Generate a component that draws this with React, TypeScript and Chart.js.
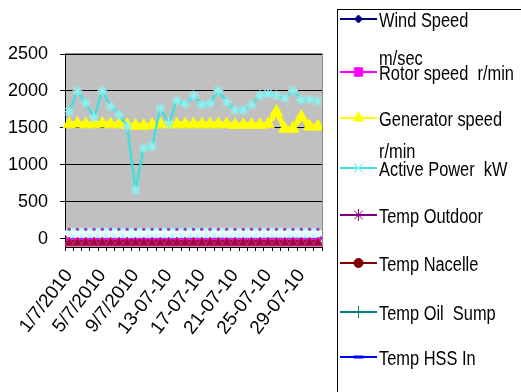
import React, { useEffect, useRef } from 'react';
import { Chart, registerables } from 'chart.js';
import { drawPoint } from 'chart.js/helpers';

Chart.register(...registerables);

const CATEGORIES = [
  '1/7/2010', '2/7/2010', '3/7/2010', '4/7/2010', '5/7/2010', '6/7/2010', '7/7/2010', '8/7/2010',
  '9/7/2010', '10/7/2010', '11/7/2010', '12/7/2010', '13-07-10', '14-07-10', '15-07-10', '16-07-10',
  '17-07-10', '18-07-10', '19-07-10', '20-07-10', '21-07-10', '22-07-10', '23-07-10', '24-07-10',
  '25-07-10', '26-07-10', '27-07-10', '28-07-10', '29-07-10', '30-07-10', '31-07-10',
];

const SERIES_NAMES = [
  'Wind Speed m/sec',
  'Rotor speed  r/min',
  'Generator speed r/min',
  'Active Power  kW',
  'Temp Outdoor',
  'Temp Nacelle',
  'Temp Oil  Sump',
  'Temp HSS In',
];

const LEGEND_TEXT = [
  ['Wind Speed', 'm/sec'],
  ['Rotor speed  r/min'],
  ['Generator speed', 'r/min'],
  ['Active Power  kW'],
  ['Temp Outdoor'],
  ['Temp Nacelle'],
  ['Temp Oil  Sump'],
  ['Temp HSS In'],
];

const WIND_SPEED = [7, 9, 8, 6, 9, 8, 7, 6, 3, 5, 5, 7, 6, 8, 8, 9, 8, 8, 9, 8, 7, 7, 8, 8, 9, 9, 8, 9, 8, 8, 8];
const ROTOR_SPEED = [15, 16, 16, 15, 16, 15, 15, 14, 10, 13, 13, 15, 14, 16, 16, 16, 16, 16, 16, 16, 15, 15, 15, 16, 16, 17, 15, 15, 16, 16, 16];
const GENERATOR_SPEED = [1550, 1560, 1550, 1550, 1560, 1550, 1550, 1540, 1530, 1530, 1540, 1550, 1550, 1550, 1550, 1550, 1550, 1550, 1550, 1550, 1540, 1540, 1540, 1540, 1550, 1720, 1490, 1490, 1650, 1520, 1520];
const ACTIVE_POWER = [1720, 2000, 1840, 1640, 2000, 1790, 1680, 1520, 660, 1230, 1250, 1770, 1560, 1870, 1820, 1940, 1810, 1830, 2010, 1850, 1740, 1740, 1810, 1940, 1960, 1940, 1900, 2010, 1880, 1885, 1860];
const TEMP_OUTDOOR = [130, 130, 130, 130, 130, 130, 130, 130, 130, 130, 130, 130, 130, 130, 130, 130, 130, 130, 130, 130, 130, 130, 130, 130, 130, 130, 130, 130, 130, 130, 130];
const TEMP_NACELLE = [-55, -55, -55, -55, -55, -55, -55, -55, -55, -55, -55, -55, -55, -55, -55, -55, -55, -55, -55, -55, -55, -55, -55, -55, -55, -55, -55, -55, -55, -55, -55];
const TEMP_OIL_SUMP = [80, 81, 81, 80, 81, 81, 80, 80, 78, 79, 79, 80, 80, 81, 81, 82, 81, 81, 82, 81, 80, 80, 81, 81, 82, 82, 81, 82, 81, 81, 81];
const TEMP_HSS_IN = [78, 79, 79, 78, 79, 79, 78, 78, 76, 77, 77, 78, 78, 79, 79, 80, 79, 79, 80, 79, 78, 78, 79, 79, 80, 80, 79, 80, 79, 79, 79];

const Y_TICKS = [0, 500, 1000, 1500, 2000, 2500];
const Y_MIN = -110;
const Y_MAX = 2500;
const LABEL_EVERY = 4;

const FONT = '"Liberation Sans", Arial, sans-serif';

const LEGEND_STYLE = [
  { line: '#000080', fill: '#000080', point: 'rectRot', r: 4, bw: 1 },
  { line: '#ff00ff', fill: '#ff00ff', point: 'rect', r: 6, bw: 1 },
  { line: '#ffff00', fill: '#ffff00', point: 'triangle', r: 6, bw: 1 },
  { line: '#40e0e0', fill: '#90f0f0', point: 'crossRot', r: 6, bw: 1.5 },
  { line: '#800080', fill: '#800080', point: 'star', r: 6, bw: 1 },
  { line: '#800000', fill: '#800000', point: 'circle', r: 4.5, bw: 1 },
  { line: '#008080', fill: '#008080', point: 'cross', r: 6, bw: 1 },
  { line: '#0000ff', fill: '#0000ff', point: 'line', r: 5, bw: 3 },
];
const LEGEND_LINE_Y = [19, 72, 118, 168, 215, 263, 312, 357];
const LEGEND_SECOND_GAP = [38, 0, 32, 0, 0, 0, 0, 0];

const plotPlugin = {
  id: 'plotBackground',
  beforeDraw(chart: any) {
    const { ctx, chartArea: a } = chart;
    ctx.save();
    ctx.fillStyle = '#c0c0c0';
    ctx.fillRect(a.left, a.top, a.right - a.left, a.bottom - a.top);
    ctx.restore();
  },
  afterDraw(chart: any) {
    const { ctx, chartArea: a } = chart;
    ctx.save();
    ctx.strokeStyle = '#8a8a8a';
    ctx.lineWidth = 1;
    ctx.beginPath();
    ctx.moveTo(a.left, Math.round(a.top) - 0.5);
    ctx.lineTo(Math.round(a.right) + 0.5, Math.round(a.top) - 0.5);
    ctx.lineTo(Math.round(a.right) + 0.5, a.bottom);
    ctx.stroke();

    ctx.strokeStyle = '#000';
    ctx.lineWidth = 1;
    ctx.strokeRect(337.5, 9.5, 400, 500);
    LEGEND_TEXT.forEach((lines, i) => {
      const st = LEGEND_STYLE[i];
      const y = LEGEND_LINE_Y[i];
      ctx.strokeStyle = st.line;
      ctx.lineWidth = 2;
      ctx.beginPath();
      ctx.moveTo(340, y);
      ctx.lineTo(377, y);
      ctx.stroke();
      ctx.fillStyle = st.fill;
      ctx.strokeStyle = st.fill;
      ctx.lineWidth = st.bw;
      drawPoint(ctx, { pointStyle: st.point, radius: st.r, rotation: 0, borderWidth: st.bw } as any, 358.5, y);
      ctx.fillStyle = '#000';
      ctx.font = `20px ${FONT}`;
      ctx.textBaseline = 'alphabetic';
      ctx.textAlign = 'left';
      lines.forEach((t, j) => {
        ctx.save();
        ctx.translate(379, y + 8 + j * LEGEND_SECOND_GAP[i]);
        ctx.scale(0.82, 1);
        ctx.fillText(t, 0, 0);
        ctx.restore();
      });
    });
    ctx.restore();
  },
};

export default function App() {
  const ref = useRef<HTMLCanvasElement>(null);
  useEffect(() => {
    document.body.style.margin = '0';
    const chart = new Chart(ref.current as HTMLCanvasElement, {
      type: 'line',
      data: {
        labels: CATEGORIES,
        datasets: [
          { label: SERIES_NAMES[0], data: WIND_SPEED, borderColor: '#000080', backgroundColor: '#000080', pointStyle: 'rectRot', pointRadius: 3, borderWidth: 2, order: 8, clip: 0 },
          { label: SERIES_NAMES[1], data: ROTOR_SPEED, borderColor: '#ff00ff', backgroundColor: '#ff00ff', pointStyle: 'rect', pointRadius: 3, borderWidth: 2, order: 7, clip: 0 },
          { label: SERIES_NAMES[2], data: GENERATOR_SPEED, borderColor: '#ffff00', backgroundColor: '#ffff00', pointBorderColor: '#ffff00', pointStyle: 'triangle', pointRadius: 7, pointBorderWidth: 1, borderWidth: 5, order: 2 },
          { label: SERIES_NAMES[3], data: ACTIVE_POWER, borderColor: '#40e0e0', backgroundColor: '#90f0f0', pointBorderColor: '#90f0f0', pointStyle: 'star', pointRadius: 5, pointBorderWidth: 1.5, borderWidth: 2.5, order: 1 },
          { label: SERIES_NAMES[4], data: TEMP_OUTDOOR, borderColor: '#a040b8', backgroundColor: '#a040b8', pointStyle: 'circle', pointRadius: 1.8, pointBorderWidth: 0, showLine: false, order: 3, clip: 0 },
          { label: SERIES_NAMES[5], data: TEMP_NACELLE, borderColor: '#9a0a3e', backgroundColor: '#9a0a3e', pointBorderColor: '#e0208c', pointStyle: 'triangle', pointRadius: 6, pointBorderWidth: 1, borderWidth: 6, order: 4, clip: 0 },
          { label: SERIES_NAMES[6], data: TEMP_OIL_SUMP, borderColor: '#a4fafa', backgroundColor: '#e4ffff', pointStyle: 'rectRot', pointRadius: 6, pointBorderWidth: 0, borderWidth: 10, order: 5, clip: 0 },
          { label: SERIES_NAMES[7], data: TEMP_HSS_IN, borderColor: '#a4fafa', backgroundColor: '#a4fafa', pointStyle: 'rectRot', pointRadius: 5, pointBorderWidth: 0, borderWidth: 8, order: 6, clip: 0 },
        ] as any,
      },
      options: {
        animation: false,
        responsive: false,
        devicePixelRatio: 1,
        layout: { padding: { left: 0, top: 54, right: 199, bottom: 0 } },
        plugins: { legend: { display: false }, tooltip: { enabled: false } },
        scales: {
          x: {
            type: 'category',
            offset: true,
            grid: { offset: true, drawOnChartArea: false, drawTicks: true, tickLength: 4, color: '#000' },
            border: { display: true, color: '#000', width: 1 },
            ticks: {
              autoSkip: false,
              maxRotation: 52,
              minRotation: 52,
              padding: 14,
              color: '#000',
              font: { family: FONT, size: 19 },
              callback: (_v: any, i: number) => (i % LABEL_EVERY === 0 ? CATEGORIES[i] : ''),
            },
            afterFit: (s: any) => { s.height = 145; },
          },
          y: {
            min: Y_MIN,
            max: Y_MAX,
            afterBuildTicks: (s: any) => { s.ticks = Y_TICKS.map((v) => ({ value: v })); },
            grid: { color: '#000', tickLength: 5, lineWidth: 1 },
            border: { color: '#000' },
            ticks: { color: '#000', padding: 12, font: { family: FONT, size: 18 }, callback: (v: any) => String(v) },
            afterFit: (s: any) => { s.width = 65; },
          },
        },
      } as any,
      plugins: [plotPlugin],
    });
    return () => chart.destroy();
  }, []);
  return (
    <div style={{ width: 521, height: 392, background: '#fff' }}>
      <canvas ref={ref} width={521} height={392} style={{ display: 'block', width: 521, height: 392 }} />
    </div>
  );
}
